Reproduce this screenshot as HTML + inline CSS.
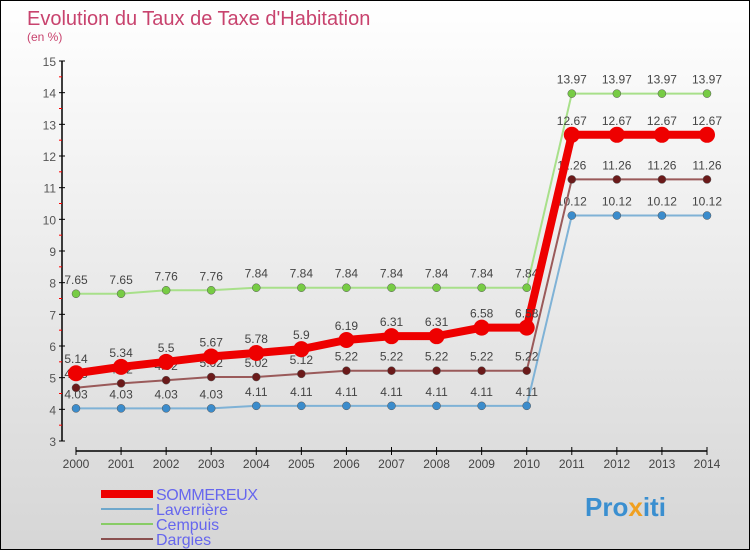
<!DOCTYPE html>
<html><head><meta charset="utf-8"><style>
body{margin:0;}
#c{width:748px;height:548px;border:1px solid #000;background:linear-gradient(#ffffff,#d6d6d6);position:relative;font-family:"Liberation Sans",sans-serif;overflow:hidden}
svg{position:absolute;left:0;top:0}
</style></head><body>
<div id="c">
<svg id="s" width="748" height="548">
<text x="26" y="24" font-size="20" fill="#c8436e">Evolution du Taux de Taxe d'Habitation</text>
<text x="26" y="40" font-size="12" fill="#c8436e">(en %)</text>
<g id="axes"></g><g id="series"></g>
<g>
<rect x="100" y="489" width="52" height="8" fill="#ee0000"/>
<text x="155" y="499" font-size="16" fill="#6666ee" textLength="102">SOMMEREUX</text>
<line x1="100" y1="508" x2="152" y2="508" stroke="#6fa8cc" stroke-width="2"/>
<text x="155" y="514" font-size="16" fill="#6666ee">Laverrière</text>
<line x1="100" y1="523" x2="152" y2="523" stroke="#88cc66" stroke-width="2"/>
<text x="155" y="529" font-size="16" fill="#6666ee">Cempuis</text>
<line x1="100" y1="538" x2="152" y2="538" stroke="#8a5050" stroke-width="2"/>
<text x="155" y="544" font-size="16" fill="#6666ee">Dargies</text>
</g>
<text x="584" y="515" font-size="26" font-weight="bold" fill="#3a8fd0">Pro<tspan fill="#f0a020">x</tspan>iti</text>
</svg>
</div>
<script>
const years=[2000,2001,2002,2003,2004,2005,2006,2007,2008,2009,2010,2011,2012,2013,2014];
const yTicks=[3,4,5,6,7,8,9,10,11,12,13,14,15];
const sommereux=[5.14,5.34,5.5,5.67,5.78,5.9,6.19,6.31,6.31,6.58,6.58,12.67,12.67,12.67,12.67];
const laverriere=[4.03,4.03,4.03,4.03,4.11,4.11,4.11,4.11,4.11,4.11,4.11,10.12,10.12,10.12,10.12];
const cempuis=[7.65,7.65,7.76,7.76,7.84,7.84,7.84,7.84,7.84,7.84,7.84,13.97,13.97,13.97,13.97];
const dargies=[4.68,4.82,4.92,5.02,5.02,5.12,5.22,5.22,5.22,5.22,5.22,11.26,11.26,11.26,11.26];
const NS="http://www.w3.org/2000/svg";
const xS=i=>75+i*(706-75)/(years.length-1);
const yS=v=>440-(v-3)*(380/12);
function mk(t,a,p){const e=document.createElementNS(NS,t);for(const k in a)e.setAttribute(k,a[k]);p.appendChild(e);return e;}
const ax=document.getElementById('axes');
let yl=mk('line',{x1:61,y1:yS(15),x2:61,y2:yS(3),stroke:'#000','stroke-width':1.5},ax);


let xl=mk('line',{x1:75,y1:450,x2:706,y2:450,stroke:'#000','stroke-width':1.5},ax);


yTicks.forEach(v=>{
 mk('line',{x1:58,y1:yS(v),x2:64,y2:yS(v),stroke:'#000'},ax);
 const t=mk('text',{x:55,y:yS(v)+5,'font-size':12,fill:'#555','text-anchor':'end'},ax);t.textContent=v;
 
 
 if(v<15)mk('line',{x1:58,y1:yS(v+0.5),x2:61,y2:yS(v+0.5),stroke:'#f00'},ax);
});
years.forEach((y,i)=>{
 mk('line',{x1:xS(i),y1:446,x2:xS(i),y2:454,stroke:'#000'},ax);
 const t=mk('text',{x:xS(i),y:467,'font-size':12,fill:'#444','text-anchor':'middle'},ax);t.textContent=y;
 
 
});
const sg=document.getElementById('series');
function draw(name,vals,col,dot,w,r){
 const g=mk('g',{},sg);
 
 
 mk('polyline',{points:vals.map((v,i)=>xS(i)+','+yS(v)).join(' '),fill:'none',stroke:col,'stroke-width':w},g);
 vals.forEach((v,i)=>{
  const c=mk('circle',{cx:xS(i),cy:yS(v),r:r,fill:dot,stroke:w>3?'none':'#555','stroke-width':0.5},g);
  
  
  const t=mk('text',{x:xS(i),y:yS(v)-10,'font-size':12,fill:'#444','text-anchor':'middle'},g);
  t.textContent=v;
  
  
 });
}
draw('laverriere',laverriere,'#7fb2d6','#3b8ccc',2,4);
draw('cempuis',cempuis,'#a8e08a','#77cc44',2,4);
draw('dargies',dargies,'#9a5a5a','#6b1a1a',2,4);
draw('sommereux',sommereux,'#ee0000','#ee0000',8,8);
</script>
</body></html>
